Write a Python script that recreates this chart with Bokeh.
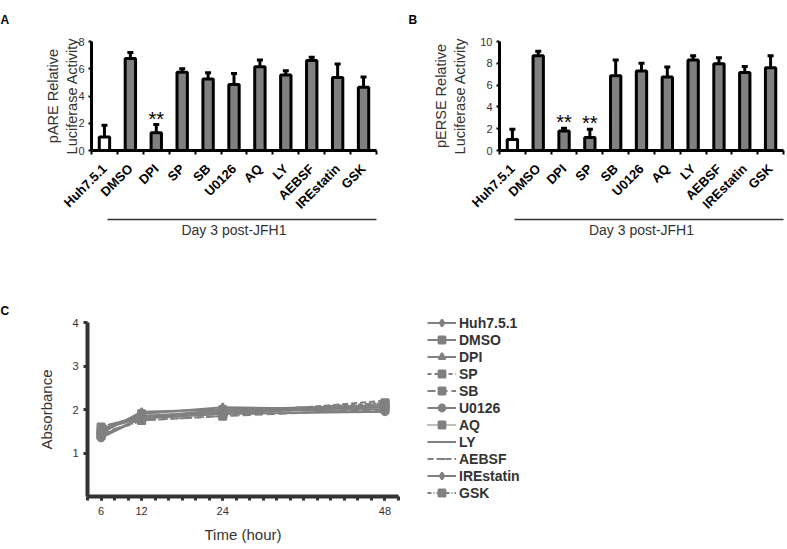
import math
from bokeh.plotting import figure
from bokeh.layouts import row, column
from bokeh.models import (ColumnDataSource, Range1d, LinearAxis, Title,
                          FixedTicker, Whisker, TeeHead, Legend, LegendItem)
from bokeh.embed import file_html
from bokeh.resources import INLINE
from bokeh.core.properties import value

FONT = "Liberation Sans"

# ---------------- data ----------------
categories = ["Huh7.5.1", "DMSO", "DPI", "SP", "SB", "U0126", "AQ", "LY", "AEBSF", "IREstatin", "GSK"]
bar_fill = ["white"] + ["#808080"] * 10

pare_mean = [1.0, 6.75, 1.3, 5.75, 5.25, 4.85, 6.15, 5.55, 6.6, 5.35, 4.65]
pare_err = [0.85, 0.45, 0.6, 0.25, 0.45, 0.8, 0.5, 0.3, 0.25, 1.0, 0.75]
pare_sig = ["", "", "**", "", "", "", "", "", "", "", ""]
pare_ticks = [0, 2, 4, 6, 8]

perse_mean = [1.0, 8.7, 1.8, 1.2, 6.85, 7.3, 6.75, 8.3, 7.95, 7.15, 7.6]
perse_err = [0.95, 0.4, 0.25, 0.75, 1.45, 0.7, 0.9, 0.4, 0.55, 0.55, 1.1]
perse_sig = ["", "", "**", "**", "", "", "", "", "", "", ""]
perse_ticks = [0, 2, 4, 6, 8, 10]

hours = [6, 12, 24, 48]
hour_labels = [6, 12, 24, 48]
abs_ticks = [1, 2, 3, 4]
series_names = ["Huh7.5.1", "DMSO", "DPI", "SP", "SB", "U0126", "AQ", "LY", "AEBSF", "IREstatin", "GSK"]
absorbance = [
    [1.55, 1.85, 1.95, 2.05],
    [1.40, 1.80, 1.90, 2.10],
    [1.50, 1.90, 2.05, 2.00],
    [1.60, 1.85, 1.95, 2.15],
    [1.45, 1.75, 1.85, 2.00],
    [1.35, 1.80, 1.90, 1.95],
    [1.50, 1.90, 2.00, 2.05],
    [1.55, 1.80, 2.00, 1.95],
    [1.60, 1.85, 1.90, 2.20],
    [1.45, 1.95, 2.00, 2.10],
    [1.40, 1.75, 1.85, 2.15],
]
series_markers = ["diamond", "square", "triangle", "square", "square", "circle", "square", "dash", "dash", "diamond", "square"]
series_dash = ["solid", "solid", "solid", "4 3", "8 4", "solid", "1 1", "solid", "6 3", "solid", "4 2 1 2"]


def panel_title(letter, offset, standoff):
    return Title(text=letter, align="left", offset=offset, standoff=standoff,
                 vertical_align="top", text_font=FONT, text_font_size="12px",
                 text_font_style="bold", text_color="black", text_line_height=0.9)


def bar_panel(letter, ylabel, means, errs, sigs, yticks, width, border_left, frame_w,
              letter_x, ylabel_standoff):
    n = len(categories)
    pos = list(range(n))
    height = 290
    top_b = 41
    frame_h = 109
    p = figure(x_range=Range1d(-0.5, n - 0.5), y_range=Range1d(0, yticks[-1]),
               width=width, height=height, output_backend="svg", toolbar_location=None,
               x_axis_location=None, min_border_left=border_left,
               min_border_right=width - border_left - frame_w,
               min_border_top=top_b, min_border_bottom=height - top_b - frame_h)
    p.grid.visible = False
    p.outline_line_color = None
    p.add_layout(panel_title(letter, letter_x - border_left, 25), "above")

    src = ColumnDataSource(dict(x=pos, mean=means,
                                top=[m + e for m, e in zip(means, errs)],
                                sig=sigs, fill=bar_fill))
    p.vbar(x="x", top="mean", bottom=0, width=0.4, source=src,
           fill_color="fill", line_color="black", line_width=3)
    wh = Whisker(source=src, base="x", upper="top", lower="mean", dimension="height",
                 line_color="black", line_width=3,
                 upper_head=TeeHead(size=6, line_color="black", line_width=3),
                 lower_head=None)
    p.add_layout(wh)
    p.text(x="x", y="top", text="sig", source=src, text_align="center",
           text_baseline="alphabetic", y_offset=-6, text_font=value(FONT),
           text_font_size="20px", text_color="black")

    # y axis
    ya = p.yaxis[0]
    ya.ticker = FixedTicker(ticks=yticks)
    ya.axis_line_width = 3
    ya.axis_line_color = "black"
    ya.major_tick_out = 3
    ya.major_tick_in = 0
    ya.major_tick_line_width = 2
    ya.minor_tick_line_color = None
    ya.major_label_text_font = FONT
    ya.major_label_text_font_size = "11px"
    ya.major_label_text_color = "#333333"
    ya.major_label_standoff = 4
    ya.axis_label = ylabel
    ya.axis_label_text_font = FONT
    ya.axis_label_text_font_size = "14.5px"
    ya.axis_label_text_font_style = "normal"
    ya.axis_label_text_color = "#333333"
    ya.axis_label_standoff = ylabel_standoff

    # category axis: labels at bar centres, ticks at bar boundaries
    cat_axis = LinearAxis(ticker=FixedTicker(ticks=pos, minor_ticks=[i - 0.5 for i in range(n + 1)]),
                          major_label_overrides={i: c for i, c in zip(pos, categories)},
                          axis_line_width=3, axis_line_color="black",
                          major_tick_line_color=None, major_tick_out=4, major_tick_in=0,
                          minor_tick_line_color="black", minor_tick_line_width=2,
                          minor_tick_out=4, minor_tick_in=0,
                          major_label_orientation=math.pi / 4,
                          major_label_text_font=FONT, major_label_text_font_size="13px",
                          major_label_text_font_style="bold", major_label_text_color="black",
                          major_label_standoff=12)
    p.add_layout(cat_axis, "below")
    br_axis = LinearAxis(bounds=(0.1, n - 0.5), ticker=FixedTicker(ticks=[]),
                         axis_line_width=1.5, axis_line_color="#333333",
                         major_tick_line_color=None, minor_tick_line_color=None,
                         axis_label="Day 3 post-JFH1", axis_label_text_font=FONT,
                         axis_label_text_font_size="14px", axis_label_text_font_style="normal",
                         axis_label_text_color="#333333", axis_label_standoff=2)
    p.add_layout(br_axis, "below")
    return p


pA = bar_panel("A", "pARE Relative\nLuciferase Activity", pare_mean, pare_err, pare_sig,
               pare_ticks, 390, 91, 285, 0, -5)
pB = bar_panel("B", "pERSE Relative\nLuciferase Activity", perse_mean, perse_err, perse_sig,
               perse_ticks, 395, 109, 284, 18, 9)

# ---------------- panel C ----------------
c_w, c_h = 410, 257
c_top, c_frame_h = 32, 174
c_left, c_frame_w = 87, 311
pC = figure(x_range=Range1d(4, 50), y_range=Range1d(0, abs_ticks[-1]),
            width=c_w, height=c_h, output_backend="svg", toolbar_location=None,
            min_border_left=c_left, min_border_right=c_w - c_left - c_frame_w,
            min_border_top=c_top, min_border_bottom=c_h - c_top - c_frame_h)
pC.grid.visible = False
pC.outline_line_color = None
pC.add_layout(panel_title("C", 0 - c_left, 6), "above")

# legend-only companion figure (data lies outside its ranges, only the legend shows)
l_w = 785 - c_w
pL = figure(x_range=Range1d(0, 1), y_range=Range1d(0, 1), width=l_w, height=c_h,
            output_backend="svg", toolbar_location=None, min_border=0,
            x_axis_location=None, y_axis_location=None)
pL.frame_align = False
pL.grid.visible = False
pL.outline_line_color = None

items = []
for name, vals, mk, dash in zip(series_names, absorbance, series_markers, series_dash):
    for fig in (pC, pL):
        lr = fig.line(hours, vals, line_color="#808080", line_width=2, line_dash=dash)
        sr = fig.scatter(hours, vals, marker=mk, size=7, fill_color="#808080",
                         line_color="#808080", line_width=2)
    items.append(LegendItem(label=name, renderers=[lr, sr]))

xa = pC.xaxis[0]
xa.ticker = FixedTicker(ticks=hour_labels, minor_ticks=list(range(4, 51, 2)))
ya = pC.yaxis[0]
ya.ticker = FixedTicker(ticks=abs_ticks)
for ax in (xa, ya):
    ax.axis_line_width = 4
    ax.axis_line_color = "#333333"
    ax.major_tick_out = 4
    ax.major_tick_in = 0
    ax.major_tick_line_width = 3
    ax.major_tick_line_color = "#333333"
    ax.minor_tick_out = 4
    ax.minor_tick_in = 0
    ax.minor_tick_line_width = 3
    ax.minor_tick_line_color = "#333333"
    ax.major_label_text_font = FONT
    ax.major_label_text_font_size = "11px"
    ax.major_label_text_color = "#333333"
    ax.axis_label_text_font = FONT
    ax.axis_label_text_font_size = "15px"
    ax.axis_label_text_font_style = "normal"
    ax.axis_label_text_color = "#333333"
ya.minor_tick_line_color = None
xa.major_label_standoff = 6
xa.axis_label = "Time (hour)"
xa.axis_label_standoff = 8
ya.major_label_standoff = 5
ya.axis_label = "Absorbance"
ya.axis_label_standoff = 14

n_items = len(items)
legend = Legend(items=items, location=(17, c_h - 24 - 17 * n_items), padding=0, margin=0, spacing=0,
                glyph_width=29, glyph_height=17, label_height=17, label_standoff=3,
                label_text_font=FONT, label_text_font_size="14px", label_text_font_style="bold",
                label_text_color="#333333", border_line_color=None, background_fill_alpha=0)
pL.add_layout(legend)

layout = column(row(pA, pB), row(pC, pL))
open("out.html", "w").write(file_html(layout, INLINE))
